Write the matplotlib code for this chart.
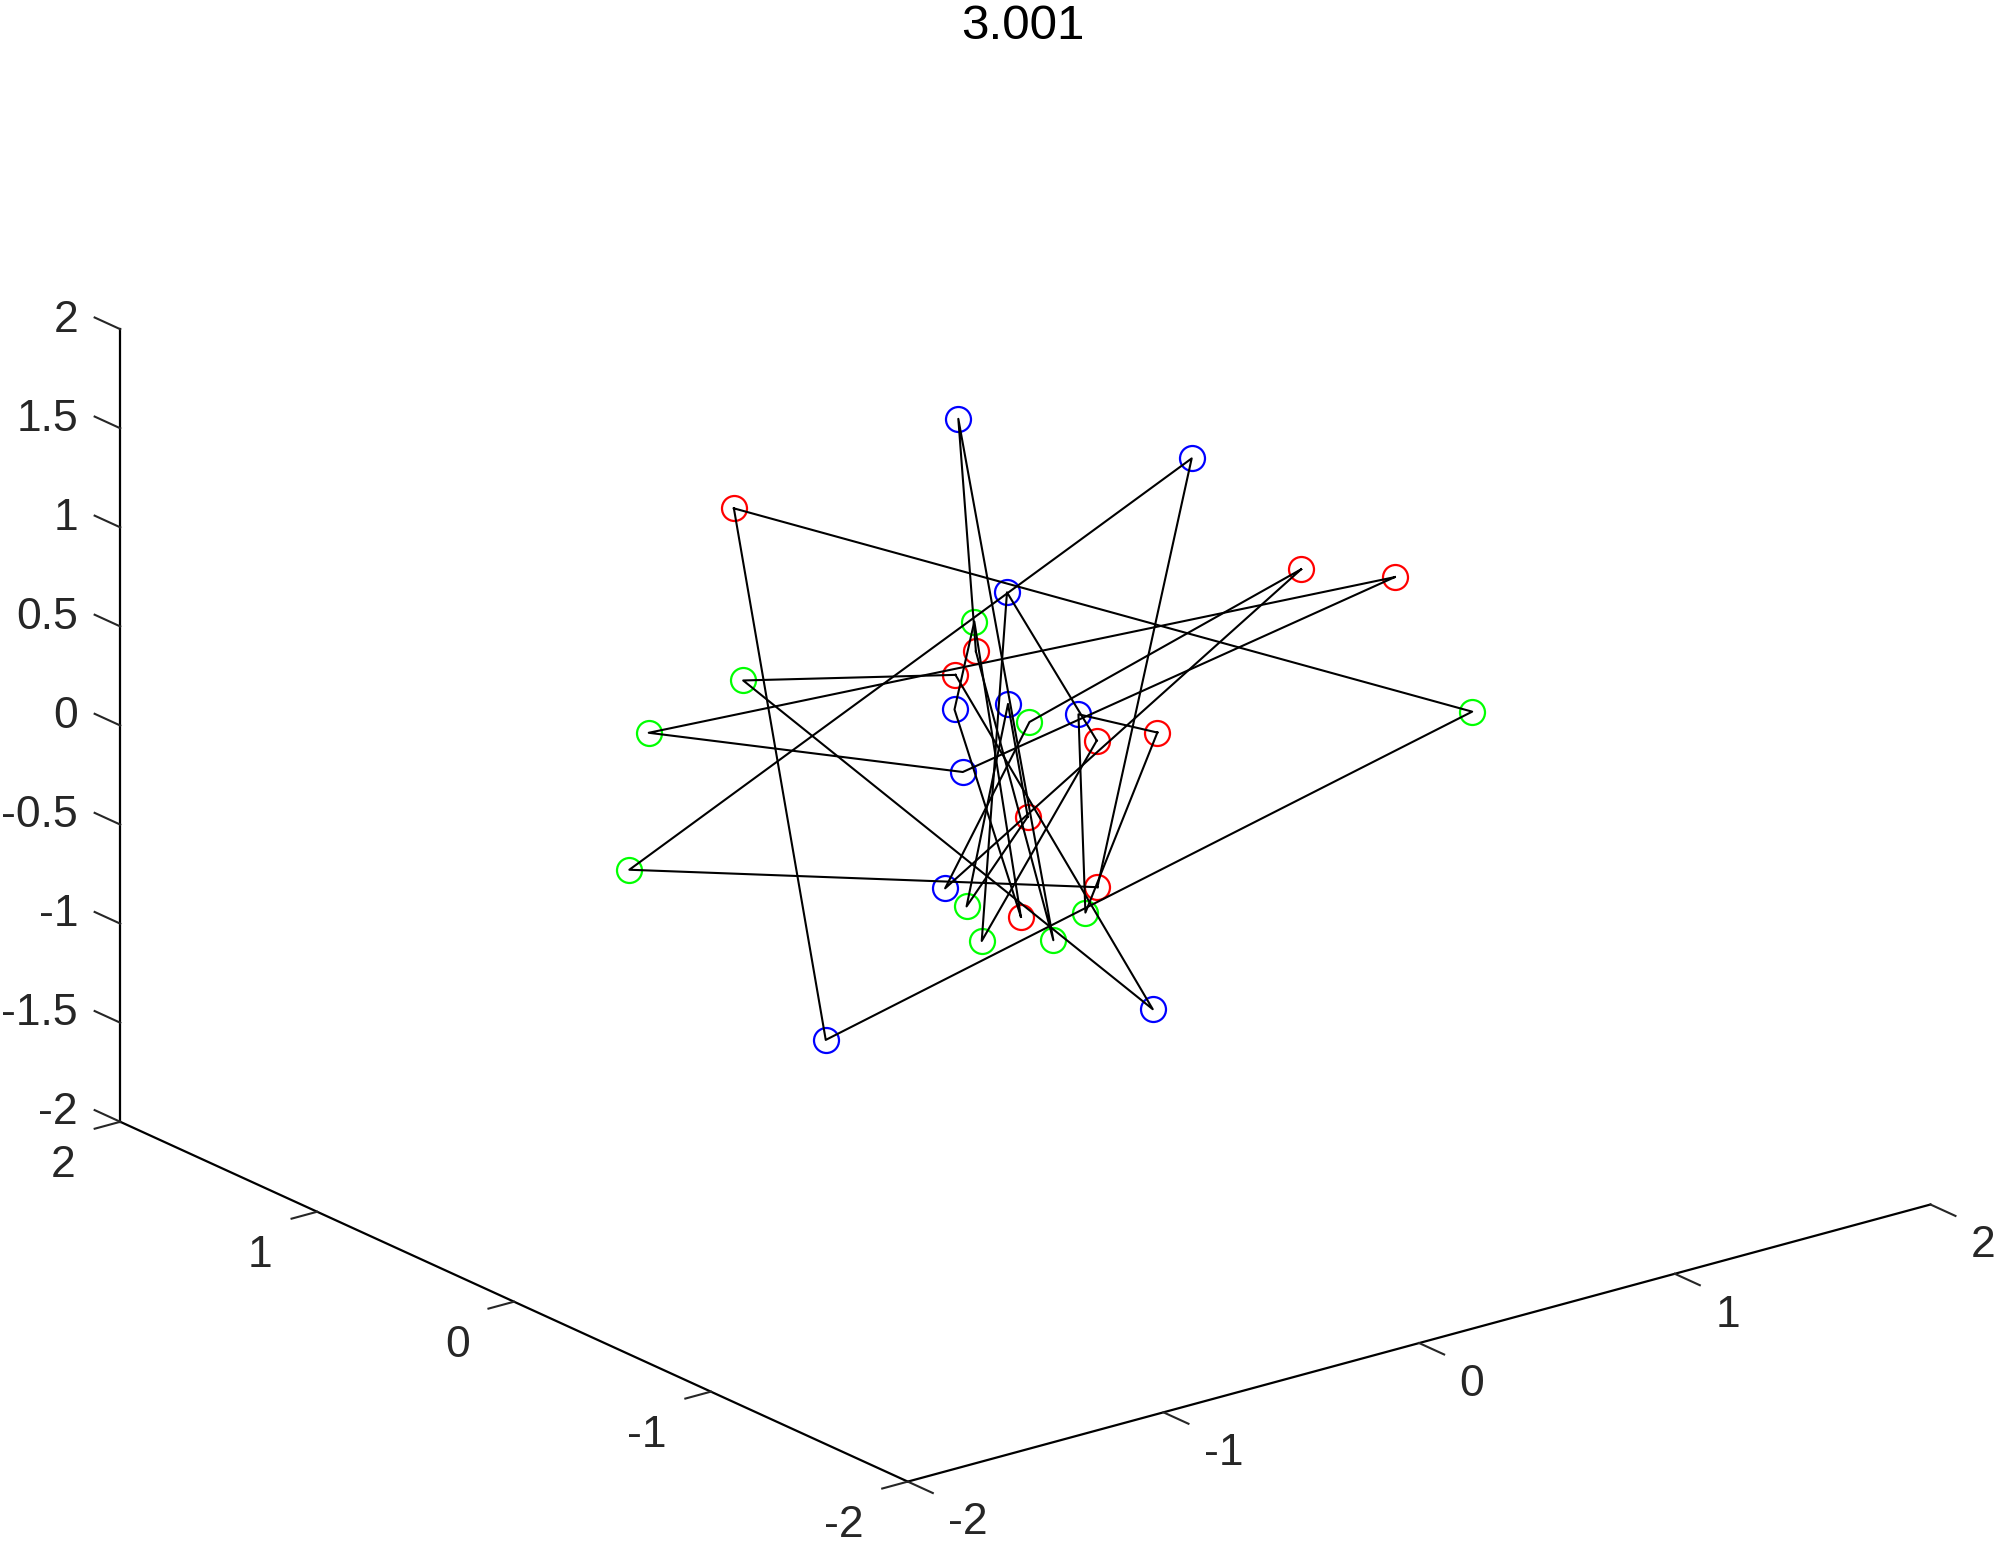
import numpy as np
import matplotlib
matplotlib.use("Agg")
import matplotlib.pyplot as plt

plt.rcParams['font.family'] = ['Liberation Sans', 'DejaVu Sans']
plt.rcParams['axes.unicode_minus'] = False

# one molecule per index: red, green and blue atom, drawn as a closed triangle
red_x = [-0.37, 0.02, 1.16, 0.37, 0.21, 0.94, -0.05, 0.03, -0.21, -0.06]
red_y = [1.00, -0.34, -0.37, -0.19, -0.09, -0.18, 0.29, 0.29, -0.25, -0.09]
red_z = [0.98, -0.46, 0.72, 0.13, 0.10, 0.75, 0.35, 0.44, -0.57, -0.19]

green_x = [1.17, -1.11, -0.88, -0.05, -0.34, 0.07, -0.58, -0.16, 0.07, -0.33]
green_y = [-0.75, 0.57, 0.77, -0.37, -0.22, 0.07, 0.68, -0.35, 0.35, -0.13]
green_z = [0.21, -0.39, 0.13, -0.55, -0.66, 0.17, 0.33, -0.66, 0.55, -0.53]

blue_x = [-0.85, 0.82, -0.16, 0.20, 0.19, -0.36, -0.01, 0.30, -0.10, 0.04]
blue_y = [-0.09, 0.22, 0.11, -0.01, 0.34, -0.06, -0.66, 0.73, 0.23, 0.14]
blue_z = [-1.04, 1.17, -0.02, 0.20, 0.66, -0.46, -0.92, 1.32, 0.22, 0.24]

xy_ticks = [-2, -1, 0, 1, 2]
xy_labels = ['-2', '-1', '0', '1', '2']
z_ticks = [-2, -1.5, -1, -0.5, 0, 0.5, 1, 1.5, 2]
z_labels = ['-2', '-1.5', '-1', '-0.5', '0', '0.5', '1', '1.5', '2']
title = '3.001'

axcol = (0.15, 0.15, 0.15)
lo, hi = -2.0, 2.0

fig = plt.figure(figsize=(9.975, 7.715), dpi=200)
fig.patch.set_facecolor('white')

side = 1543 / 1995
ax = fig.add_axes([233 / 1995, -16.2 / 1543, side, 1.0], projection='3d')
ax.set_proj_type('ortho')
ax.view_init(elev=20.6, azim=-127.6)
ax.set_box_aspect((1, 1, 0.656), zoom=1.266)
ax.computed_zorder = False

ax.set_xlim(lo, hi)
ax.set_ylim(lo, hi)
ax.set_zlim(lo, hi)
ax.set_xticks([])
ax.set_yticks([])
ax.set_zticks([])
ax.grid(False)

for axis in (ax.xaxis, ax.yaxis, ax.zaxis):
    axis.set_pane_color((1, 1, 1, 0))
    axis._axinfo['axisline']['color'] = axcol
    axis._axinfo['axisline']['linewidth'] = 0.75

M = ax.get_proj()


def label(x, y, z, s, ha):
    # project the 3D anchor and write the label as plain 2D text
    v = M @ np.array([x, y, z, 1.0])
    ax.text2D(v[0] / v[3], v[1] / v[3], s, transform=ax.transData,
              ha=ha, va='center_baseline', fontsize=16, color=axcol)


# MATLAB style ticks, pointing out of the box (they sit outside the axes patch)
tk = dict(color=axcol, lw=0.75, zorder=1, clip_on=False)
for t, s in zip(xy_ticks, xy_labels):
    ax.plot([t, t], [lo, lo - 0.127], [lo, lo], **tk)
    label(t - 0.15, lo - 0.40, lo + 0.048, s, 'left')
    ax.plot([lo, lo - 0.10], [t, t], [lo, lo], **tk)
    label(lo - 0.32, t - 0.19, lo, s, 'right')
for t, s in zip(z_ticks, z_labels):
    ax.plot([lo, lo], [hi, hi + 0.13], [t, t], **tk)
    label(lo - 0.03, hi + 0.175, t, s, 'right')

# markers
ax.plot(red_x, red_y, red_z, 'o', ls='none', ms=9, mfc='none',
        mec=(1, 0, 0), mew=0.8, zorder=2)
ax.plot(green_x, green_y, green_z, 'o', ls='none', ms=9, mfc='none',
        mec=(0, 1, 0), mew=0.8, zorder=2)
ax.plot(blue_x, blue_y, blue_z, 'o', ls='none', ms=9, mfc='none',
        mec=(0, 0, 1), mew=0.8, zorder=2)

# triangles
for i in range(len(red_x)):
    tx = [red_x[i], green_x[i], blue_x[i], red_x[i]]
    ty = [red_y[i], green_y[i], blue_y[i], red_y[i]]
    tz = [red_z[i], green_z[i], blue_z[i], red_z[i]]
    ax.plot(tx, ty, tz, color='k', lw=0.75, zorder=3)

fig.text(1022.5 / 1995, 1 - 39 / 1543, title, ha='center', va='baseline',
         fontsize=17.8, color='k')

fig.savefig('out.png', dpi=200, facecolor='white')
